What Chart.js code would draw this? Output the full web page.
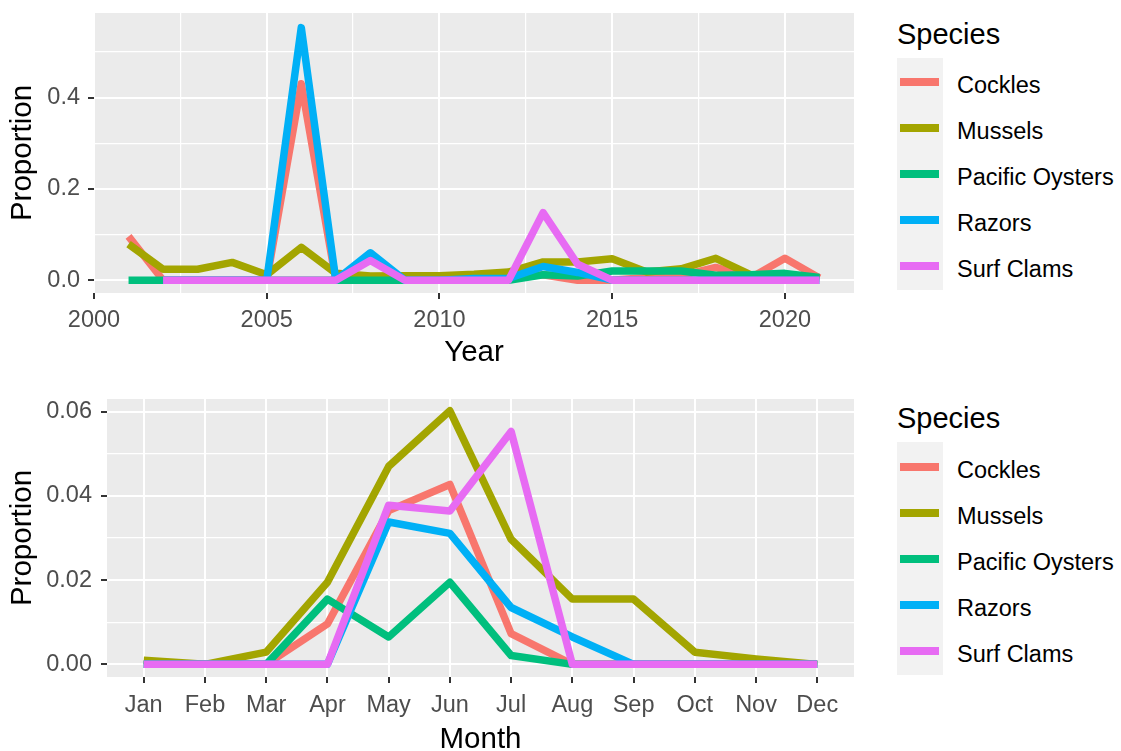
<!DOCTYPE html>
<html>
<head>
<meta charset="utf-8">
<script src="https://cdn.jsdelivr.net/npm/chart.js@4.4.1/dist/chart.umd.min.js"></script>
<style>
  html, body { margin: 0; padding: 0; background: #ffffff; overflow: hidden; }
  #wrap { position: relative; width: 1121px; height: 751px; overflow: hidden; font-family: "Liberation Sans", Arial, sans-serif; }
  canvas { position: absolute; left: 0; }
  .lg-title { position: absolute; font-size: 29px; line-height: 29px; color: #000; white-space: nowrap; }
  .lg-box { position: absolute; background: #F2F2F2; }
  .lg-key { position: absolute; height: 8px; }
  .lg-label { position: absolute; font-size: 23.5px; line-height: 23.5px; color: #000; white-space: nowrap; }
</style>
</head>
<body>
<div id="wrap">
  <canvas id="top" width="870" height="376" style="top:0px;width:870px;height:376px"></canvas>
  <canvas id="bottom" width="870" height="390" style="top:370px;width:870px;height:390px"></canvas>
</div>
<script>
// ---------------- data ----------------
const species = ['Cockles', 'Mussels', 'Pacific Oysters', 'Razors', 'Surf Clams'];
const colors  = ['#F8766D', '#A3A500', '#00BF7D', '#00B0F6', '#E76BF3'];

// Top panel: proportion by year
const years = [2001, 2002, 2003, 2004, 2005, 2006, 2007, 2008, 2009, 2010, 2011,
               2012, 2013, 2014, 2015, 2016, 2017, 2018, 2019, 2020, 2021];
const yearCockles   = [0.096, 0, 0, 0, 0, 0.43, 0, 0, 0, 0, 0.01, 0.006, 0.012, 0, 0, 0.006, 0.01, 0.028, 0.005, 0.048, 0.005];
const yearMussels   = [0.079, 0.024, 0.024, 0.039, 0.012, 0.072, 0.015, 0.009, 0.01, 0.01, 0.013, 0.018, 0.04, 0.04, 0.047, 0.018, 0.025, 0.048, 0.012, 0.01, 0.005];
const yearOysters   = [0, 0, 0, 0, 0, 0, 0, 0, 0, 0, 0, 0, 0.012, 0.009, 0.02, 0.02, 0.02, 0.011, 0.012, 0.015, 0.006];
const yearRazors    = [null, 0, 0, 0, 0, 0.553, 0, 0.06, 0, 0, 0.004, 0.004, 0.03, 0.017, 0, 0, 0, 0, 0, 0, 0];
const yearSurfClams = [null, 0, 0, 0, 0, 0, 0, 0.043, 0, 0, 0, 0, 0.148, 0.035, 0, 0, 0, 0, 0, 0, 0];

// Bottom panel: proportion by month
const months = ['Jan', 'Feb', 'Mar', 'Apr', 'May', 'Jun', 'Jul', 'Aug', 'Sep', 'Oct', 'Nov', 'Dec'];
const monthCockles   = [0, 0, 0, 0.0096, 0.0365, 0.0427, 0.0073, 0, 0, 0, 0, 0];
const monthMussels   = [0.001, 0, 0.0029, 0.0195, 0.047, 0.0602, 0.0297, 0.0155, 0.0155, 0.0029, 0.0013, 0];
const monthOysters   = [0, 0, 0, 0.0155, 0.0065, 0.0195, 0.0021, 0, 0, 0, 0, 0];
const monthRazors    = [0, 0, 0, 0, 0.0338, 0.0311, 0.0135, 0.0065, 0, 0, 0, 0];
const monthSurfClams = [0, 0, 0, 0, 0.0378, 0.0364, 0.0553, 0, 0, 0, 0, 0];

// Tick labels / positions
const yearTicks       = [2000, 2005, 2010, 2015, 2020];
const yearMinorTicks  = [2002.5, 2007.5, 2012.5, 2017.5];
const topYTicks       = [0, 0.2, 0.4];
const topYMinorTicks  = [0.1, 0.3, 0.5];
const botYTicks       = [0, 0.02, 0.04, 0.06];
const botYMinorTicks  = [0.01, 0.03, 0.05];

// ---------------- helpers ----------------
const FONT = '"Liberation Sans", Arial, sans-serif';
Chart.defaults.font.family = FONT;

const near = (a, b) => Math.abs(a - b) < 1e-9;
const inList = (v, list) => list.some(x => near(x, v));

const panelBg = {
  id: 'panelBg',
  beforeDraw(chart) {
    const a = chart.chartArea, c = chart.ctx;
    c.save();
    c.fillStyle = '#EBEBEB';
    c.fillRect(a.left, a.top, a.right - a.left, a.bottom - a.top);
    c.restore();
  }
};

function axisCfg(opts) {
  const { min, max, major, minor, fmt, isX, size, tickLen, tickPad, title, titlePad } = opts;
  return {
    type: 'linear',
    min, max,
    offset: false,
    afterBuildTicks(scale) {
      scale.ticks = [...major, ...minor].sort((a, b) => a - b).map(v => ({ value: v }));
    },
    afterFit(scale) {
      if (isX) scale.height = size; else scale.width = size;
      scale.paddingTop = 0; scale.paddingBottom = 0;
      scale.paddingLeft = 0; scale.paddingRight = 0;
    },
    ticks: {
      autoSkip: false,
      maxRotation: 0,
      minRotation: 0,
      padding: tickPad,
      color: '#4D4D4D',
      font: { family: FONT, size: 23.5 },
      callback: (v) => inList(v, major) ? fmt(v) : ''
    },
    grid: {
      drawTicks: true,
      tickLength: tickLen,
      color: '#FFFFFF',
      lineWidth: (ctx) => (ctx.tick && inList(ctx.tick.value, major)) ? 2 : 1.2,
      tickColor: (ctx) => (ctx.tick && inList(ctx.tick.value, major)) ? '#333333' : 'rgba(0,0,0,0)',
      tickWidth: 2
    },
    border: { display: false },
    title: {
      display: true,
      text: title,
      color: '#000000',
      font: { family: FONT, size: 29.5, lineHeight: 1.2 },
      padding: titlePad
    }
  };
}

function makeDatasets(xs, arrays) {
  return arrays.map((arr, i) => ({
    label: species[i],
    data: xs.map((x, j) => ({ x: x, y: arr[j] })),
    order: arrays.length - i,           // later species drawn on top (ggplot order)
    borderColor: colors[i],
    backgroundColor: colors[i],
    borderWidth: 7.5,
    borderCapStyle: 'butt',
    borderJoinStyle: 'round',
    pointRadius: 0,
    pointHoverRadius: 0,
    tension: 0,
    fill: false,
    spanGaps: false
  }));
}

// ---------------- top chart ----------------
new Chart(document.getElementById('top'), {
  type: 'line',
  data: { datasets: makeDatasets(years, [yearCockles, yearMussels, yearOysters, yearRazors, yearSurfClams]) },
  options: {
    responsive: false,
    animation: false,
    devicePixelRatio: 1,
    layout: { padding: { top: 13, right: 16, left: 0, bottom: 0 } },
    plugins: { legend: { display: false }, tooltip: { enabled: false } },
    scales: {
      x: axisCfg({ min: 2000, max: 2022, major: yearTicks, minor: yearMinorTicks, fmt: v => String(v),
                   isX: true, size: 83, tickLen: 6, tickPad: 7, title: 'Year', titlePad: { top: 0, bottom: 5 } }),
      y: axisCfg({ min: -0.028, max: 0.585, major: topYTicks, minor: topYMinorTicks, fmt: v => v.toFixed(1),
                   isX: false, size: 94, tickLen: 6, tickPad: 8, title: 'Proportion', titlePad: { top: 5.5, bottom: 0 } })
    }
  },
  plugins: [panelBg]
});

// ---------------- bottom chart ----------------
const monthIdx = months.map((m, i) => i);
new Chart(document.getElementById('bottom'), {
  type: 'line',
  data: { datasets: makeDatasets(monthIdx, [monthCockles, monthMussels, monthOysters, monthRazors, monthSurfClams]) },
  options: {
    responsive: false,
    animation: false,
    devicePixelRatio: 1,
    layout: { padding: { top: 29, right: 16, left: 0, bottom: 0 } },
    plugins: { legend: { display: false }, tooltip: { enabled: false } },
    scales: {
      x: axisCfg({ min: -0.6, max: 11.6, major: monthIdx, minor: [], fmt: v => months[Math.round(v)],
                   isX: true, size: 83, tickLen: 6, tickPad: 8, title: 'Month', titlePad: { top: 0, bottom: 2.5 } }),
      y: axisCfg({ min: -0.003, max: 0.063, major: botYTicks, minor: botYMinorTicks, fmt: v => v.toFixed(2),
                   isX: false, size: 107, tickLen: 6, tickPad: 9, title: 'Proportion', titlePad: { top: 5.5, bottom: 0 } })
    }
  },
  plugins: [panelBg]
});

// ---------------- legends (HTML text) ----------------
function buildLegend(cfg) {
  const wrap = document.getElementById('wrap');
  const t = document.createElement('div');
  t.className = 'lg-title';
  t.textContent = 'Species';
  t.style.left = '897px';
  t.style.top = (cfg.titleBaseline - 24.5) + 'px';
  wrap.appendChild(t);

  const box = document.createElement('div');
  box.className = 'lg-box';
  box.style.left = '897px';
  box.style.top = cfg.boxTop + 'px';
  box.style.width = '46px';
  box.style.height = cfg.boxH + 'px';
  wrap.appendChild(box);

  species.forEach((name, i) => {
    const cy = cfg.firstKey + i * cfg.step;
    const k = document.createElement('div');
    k.className = 'lg-key';
    k.style.left = '900px';
    k.style.width = '39px';
    k.style.top = (cy - 4) + 'px';
    k.style.background = colors[i];
    wrap.appendChild(k);

    const l = document.createElement('div');
    l.className = 'lg-label';
    l.textContent = name;
    l.style.left = '957px';
    l.style.top = (cy + 12 - 19.9) + 'px';
    wrap.appendChild(l);
  });
}
buildLegend({ titleBaseline: 44.3, boxTop: 58, boxH: 232, firstKey: 82, step: 46 });
buildLegend({ titleBaseline: 428.3, boxTop: 442, boxH: 233, firstKey: 466.5, step: 46 });
</script>
</body>
</html>
